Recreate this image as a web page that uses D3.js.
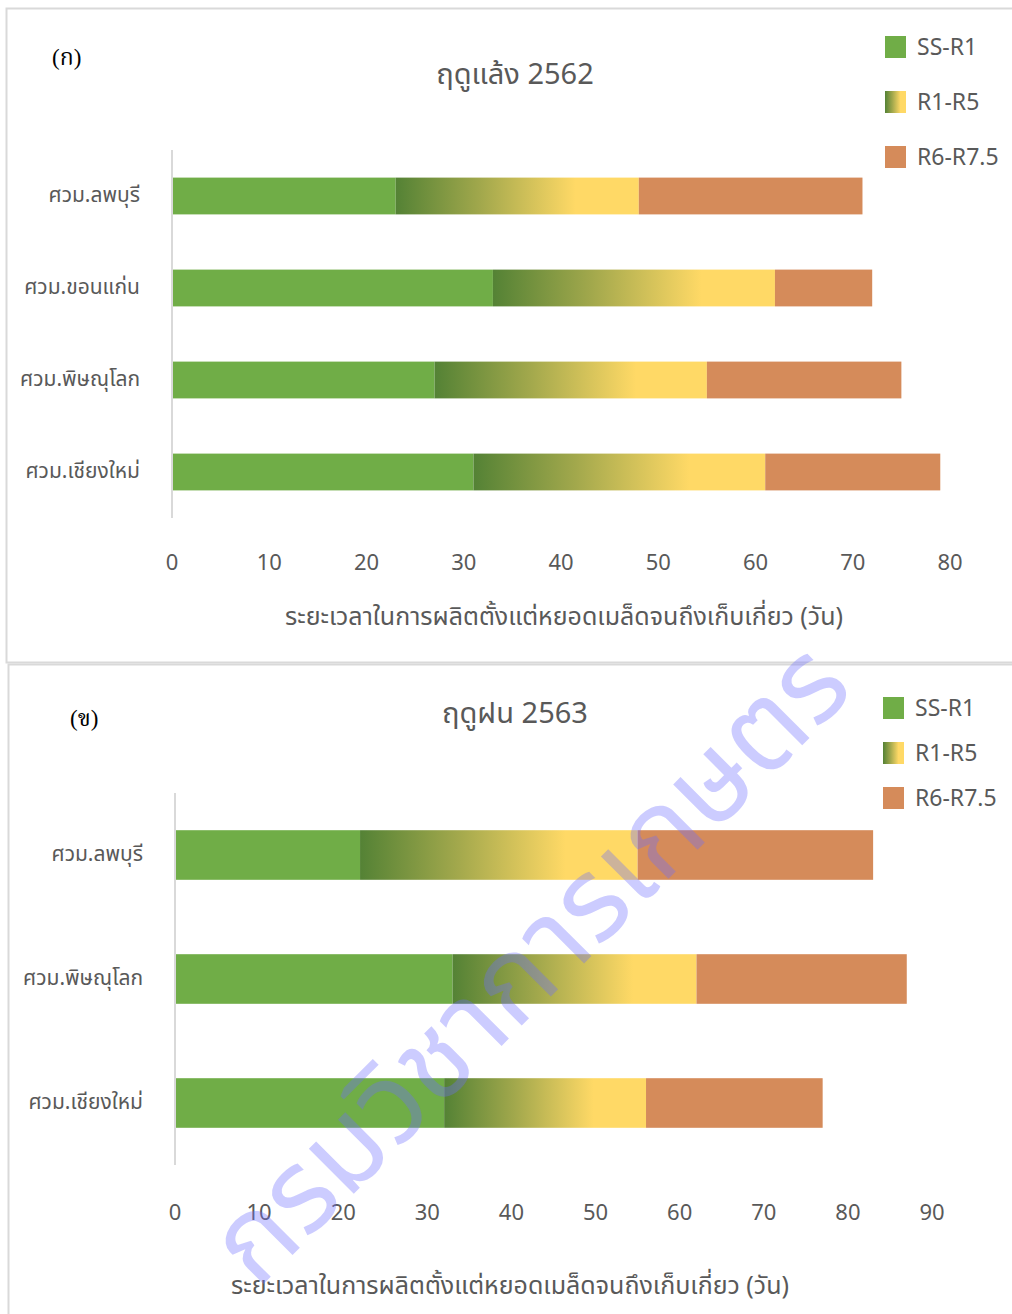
<!DOCTYPE html>
<html>
<head>
<meta charset="utf-8">
<script src="https://cdn.jsdelivr.net/npm/d3@7"></script>
<style>
  body { margin: 0; background: #fff; }
  svg text { font-family: "Leelawadee UI", Tahoma, "Noto Sans Thai", "Liberation Sans Narrow", "Noto Sans", sans-serif; }
</style>
</head>
<body>
<div id="chart"></div>
<script>
// stage names (legend order)
var stages = ["SS-R1", "R1-R5", "R6-R7.5"];

// panel (ก) dry season 2562
var dryStations = ["ศวม.ลพบุรี", "ศวม.ขอนแก่น", "ศวม.พิษณุโลก", "ศวม.เชียงใหม่"];
var drySsR1 = [23, 33, 27, 31];
var dryR1R5 = [25, 29, 28, 30];
var dryR6R75 = [23, 10, 20, 18];
var dryTicks = [0, 10, 20, 30, 40, 50, 60, 70, 80];

// panel (ข) rainy season 2563
var wetStations = ["ศวม.ลพบุรี", "ศวม.พิษณุโลก", "ศวม.เชียงใหม่"];
var wetSsR1 = [22, 33, 32];
var wetR1R5 = [33, 29, 24];
var wetR6R75 = [28, 25, 21];
var wetTicks = [0, 10, 20, 30, 40, 50, 60, 70, 80, 90];

var xTitle = "ระยะเวลาในการผลิตตั้งแต่หยอดเมล็ดจนถึงเก็บเกี่ยว  (วัน)";

var width = 1012, height = 1314;
var textGray = "#595959";
var fills = { "SS-R1": "#70ad47", "R1-R5": "url(#grad)", "R6-R7.5": "#d58b5a" };

var svg = d3.select("#chart").append("svg")
    .attr("width", width)
    .attr("height", height);

svg.append("rect").attr("width", width).attr("height", height).attr("fill", "#fff");

// gradient for R1-R5 segments
var grad = svg.append("defs").append("linearGradient")
    .attr("id", "grad")
    .attr("x1", "0%").attr("x2", "100%").attr("y1", "0%").attr("y2", "0%");
grad.append("stop").attr("offset", "0%").attr("stop-color", "#548235");
grad.append("stop").attr("offset", "35%").attr("stop-color", "#a2a84c");
grad.append("stop").attr("offset", "74%").attr("stop-color", "#ffd966");
grad.append("stop").attr("offset", "100%").attr("stop-color", "#ffd966");

// panel frames
svg.append("rect")
    .attr("x", 6.5).attr("y", 8.5).attr("width", 1020).attr("height", 654)
    .attr("fill", "none").attr("stroke", "#d9d9d9").attr("stroke-width", 2);
svg.append("rect")
    .attr("x", 8.5).attr("y", 664.5).attr("width", 1020).attr("height", 660)
    .attr("fill", "none").attr("stroke", "#d9d9d9").attr("stroke-width", 2);

function drawPanel(p) {
  var rows = p.stations.map(function(s, i) {
    return { station: s, "SS-R1": p.a[i], "R1-R5": p.b[i], "R6-R7.5": p.c[i] };
  });
  var series = d3.stack().keys(stages)(rows);

  var x = d3.scaleLinear()
      .domain([0, p.ticks[p.ticks.length - 1]])
      .range([p.left, p.right]);
  var y = d3.scaleBand()
      .domain(p.stations)
      .range([p.top, p.bottom])
      .paddingInner(0.6)
      .paddingOuter(0.3);

  var g = svg.append("g");

  // bars
  g.selectAll(".series")
      .data(series)
    .enter().append("g")
      .attr("fill", function(d) { return fills[d.key]; })
    .selectAll("rect")
      .data(function(d) { return d; })
    .enter().append("rect")
      .attr("x", function(d) { return x(d[0]); })
      .attr("y", function(d) { return y(d.data.station); })
      .attr("width", function(d) { return x(d[1]) - x(d[0]); })
      .attr("height", y.bandwidth());

  // vertical axis line + category labels
  g.append("line")
      .attr("x1", p.left).attr("x2", p.left)
      .attr("y1", p.top).attr("y2", p.bottom)
      .attr("stroke", "#d9d9d9").attr("stroke-width", 2);

  g.selectAll(".cat")
      .data(p.stations)
    .enter().append("text")
      .attr("x", p.left - 32)
      .attr("y", function(d) { return y(d) + y.bandwidth() / 2; })
      .attr("dy", ".3em")
      .attr("text-anchor", "end")
      .attr("fill", textGray)
      .style("font-size", "21px")
      .text(function(d) { return d; });

  // tick labels
  g.selectAll(".tick")
      .data(p.ticks)
    .enter().append("text")
      .attr("x", function(d) { return x(d); })
      .attr("y", p.tickY)
      .attr("dy", ".35em")
      .attr("text-anchor", "middle")
      .attr("fill", textGray)
      .style("font-size", "22px")
      .text(function(d) { return d; });

  // axis title
  g.append("text")
      .attr("x", p.titleX)
      .attr("y", p.axisTitleY)
      .attr("dy", ".35em")
      .attr("text-anchor", "middle")
      .attr("fill", textGray)
      .style("font-size", "25px")
      .text(xTitle);

  // chart title
  g.append("text")
      .attr("x", 515)
      .attr("y", p.headY)
      .attr("dy", ".35em")
      .attr("text-anchor", "middle")
      .attr("fill", textGray)
      .style("font-size", "29px")
      .text(p.head);

  // panel letter
  g.append("text")
      .attr("x", p.letterX)
      .attr("y", p.letterY)
      .attr("dy", ".35em")
      .attr("fill", "#000")
      .style("font-family", "'Liberation Serif', 'Noto Serif Thai', serif")
      .style("font-size", "23px")
      .text(p.letter);

  // legend
  var leg = g.selectAll(".leg")
      .data(stages)
    .enter().append("g")
      .attr("transform", function(d, i) {
        return "translate(" + p.legX + "," + (p.legY + i * p.legStep) + ")";
      });
  leg.append("rect")
      .attr("y", -11)
      .attr("width", 21).attr("height", 22)
      .attr("fill", function(d) { return fills[d]; });
  leg.append("text")
      .attr("x", 32)
      .attr("dy", ".35em")
      .attr("fill", textGray)
      .style("font-size", "23px")
      .text(function(d) { return d; });
}

drawPanel({
  stations: dryStations, a: drySsR1, b: dryR1R5, c: dryR6R75, ticks: dryTicks,
  left: 172, right: 950, top: 150, bottom: 518,
  tickY: 562, axisTitleY: 616, titleX: 564,
  head: "ฤดูแล้ง 2562", headY: 74,
  letter: "(ก)", letterX: 52, letterY: 57,
  legX: 885, legY: 47, legStep: 55
});

drawPanel({
  stations: wetStations, a: wetSsR1, b: wetR1R5, c: wetR6R75, ticks: wetTicks,
  left: 175, right: 932, top: 793, bottom: 1165,
  tickY: 1212, axisTitleY: 1285, titleX: 510,
  head: "ฤดูฝน 2563", headY: 713,
  letter: "(ข)", letterX: 70, letterY: 718,
  legX: 883, legY: 708, legStep: 45
});

// watermark
svg.append("text")
    .attr("transform", "translate(528,962) rotate(-45)")
    .attr("text-anchor", "middle")
    .attr("dy", ".35em")
    .attr("fill", "rgba(110,110,255,0.35)")
    .style("font-size", "116px")
    .text("กรมวิชาการเกษตร");
</script>
</body>
</html>
